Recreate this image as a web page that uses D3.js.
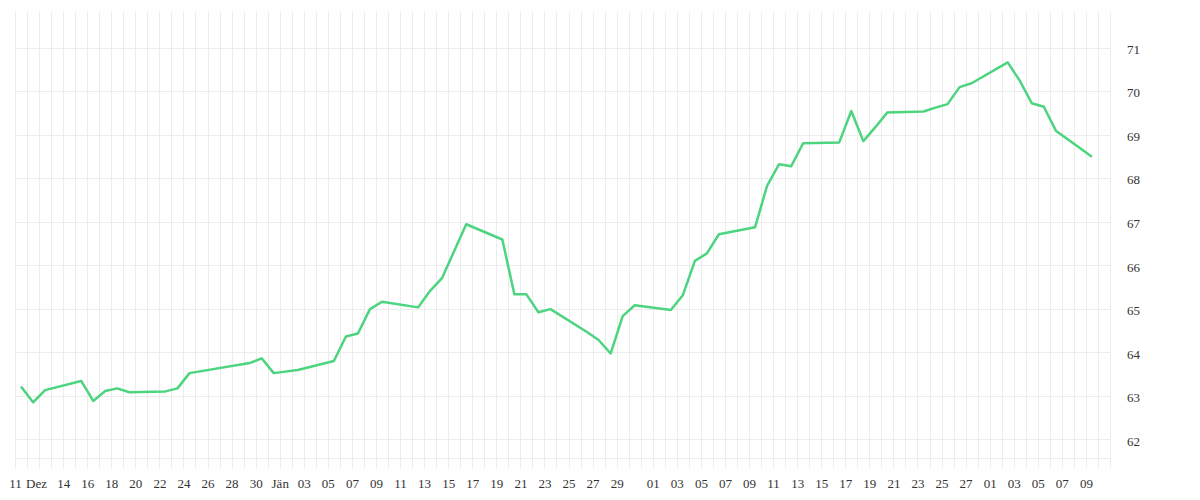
<!DOCTYPE html>
<html>
<head>
<meta charset="utf-8">
<script src="https://cdn.jsdelivr.net/npm/d3@7"></script>
<style>
  html, body { margin: 0; padding: 0; background: #fff; }
  svg { display: block; }
</style>
</head>
<body>
<svg id="chart" width="1200" height="500"></svg>
<script>
// ---- data ----
const dates = [
  "2024-12-11","2024-12-12","2024-12-13","2024-12-16","2024-12-17","2024-12-18","2024-12-19","2024-12-20",
  "2024-12-23","2024-12-24","2024-12-25","2024-12-30","2024-12-31","2025-01-01","2025-01-03",
  "2025-01-06","2025-01-07","2025-01-08","2025-01-09","2025-01-10",
  "2025-01-13","2025-01-14","2025-01-15","2025-01-17","2025-01-20","2025-01-21","2025-01-22","2025-01-23","2025-01-24",
  "2025-01-27","2025-01-28","2025-01-29","2025-01-30","2025-01-31",
  "2025-02-03","2025-02-04","2025-02-05","2025-02-06","2025-02-07",
  "2025-02-10","2025-02-11","2025-02-12","2025-02-13","2025-02-14",
  "2025-02-17","2025-02-18","2025-02-19","2025-02-20","2025-02-21",
  "2025-02-24","2025-02-25","2025-02-26","2025-02-27","2025-02-28",
  "2025-03-03","2025-03-04","2025-03-05","2025-03-06","2025-03-07","2025-03-10"
];
const values = [
  63.21, 62.85, 63.13, 63.34, 62.88, 63.11, 63.17, 63.08,
  63.10, 63.17, 63.52, 63.75, 63.86, 63.52, 63.59,
  63.80, 64.36, 64.43, 64.99, 65.16,
  65.03, 65.41, 65.71, 66.94, 66.59, 65.33, 65.33, 64.92, 64.99,
  64.47, 64.28, 63.97, 64.83, 65.08,
  64.97, 65.31, 66.10, 66.27, 66.71,
  66.87, 67.82, 68.32, 68.27, 68.80,
  68.82, 69.54, 68.85, 69.17, 69.51,
  69.53, 69.62, 69.70, 70.09, 70.18,
  70.66, 70.24, 69.72, 69.64, 69.09, 68.49
];
const tickDates = [
  "2024-12-10","2024-12-12","2024-12-14","2024-12-16","2024-12-18","2024-12-20","2024-12-22","2024-12-24",
  "2024-12-26","2024-12-28","2024-12-30","2025-01-01","2025-01-03","2025-01-05","2025-01-07","2025-01-09",
  "2025-01-11","2025-01-13","2025-01-15","2025-01-17","2025-01-19","2025-01-21","2025-01-23","2025-01-25",
  "2025-01-27","2025-01-29","2025-02-01","2025-02-03","2025-02-05","2025-02-07","2025-02-09","2025-02-11",
  "2025-02-13","2025-02-15","2025-02-17","2025-02-19","2025-02-21","2025-02-23","2025-02-25","2025-02-27",
  "2025-03-01","2025-03-03","2025-03-05","2025-03-07","2025-03-09"
];
const tickLabels = [
  "11","Dez","14","16","18","20","22","24",
  "26","28","30","Jän","03","05","07","09",
  "11","13","15","17","19","21","23","25",
  "27","29","01","03","05","07","09","11",
  "13","15","17","19","21","23","25","27",
  "01","03","05","07","09"
];
const yTicks = [62, 63, 64, 65, 66, 67, 68, 69, 70, 71];
const xDomain = ["2024-12-10T12:00", "2025-03-11T12:00"];
const yDomain = [61.57, 71.816];

// ---- chart ----
(function () {
const svg = d3.select("#chart");
const mLeft = 15, mRight = 1110, mTop = 12, mBottom = 458;
const FONT = '"Liberation Serif", "DejaVu Serif", serif';
const parseDay = d3.utcParse("%Y-%m-%d");
const parseDT = d3.utcParse("%Y-%m-%dT%H:%M");

const x = d3.scaleUtc().domain(xDomain.map(parseDT)).range([mLeft, mRight]);
const y = d3.scaleLinear().domain(yDomain).range([mBottom, mTop]);

const grid = svg.append("g").attr("stroke", "#ececec").attr("stroke-width", 1).attr("shape-rendering", "crispEdges");

// vertical daily gridlines (at noon of each day)
const gridDays = d3.utcDay.range(parseDay("2024-12-10"), parseDay("2025-03-12")).map(d => d3.utcHour.offset(d, 12));
grid.selectAll("line.v").data(gridDays).join("line")
  .attr("class", "v")
  .attr("x1", d => Math.round(x(d)) + 0.5).attr("x2", d => Math.round(x(d)) + 0.5)
  .attr("y1", mTop).attr("y2", mBottom + 10);

// horizontal gridlines
grid.selectAll("line.h").data(yTicks).join("line")
  .attr("class", "h")
  .attr("x1", mLeft).attr("x2", mRight)
  .attr("y1", d => Math.round(y(d)) + 0.5).attr("y2", d => Math.round(y(d)) + 0.5);
grid.append("line")
  .attr("x1", mLeft).attr("x2", mRight)
  .attr("y1", mBottom + 0.5).attr("y2", mBottom + 0.5);

// x axis labels
const xAxis = d3.axisBottom(x)
  .tickValues(tickDates.map(d => d3.utcHour.offset(parseDay(d), 12)))
  .tickFormat((d, i) => tickLabels[i])
  .tickSize(0).tickPadding(0);
const gx = svg.append("g").attr("transform", `translate(0,${mBottom})`).call(xAxis);
gx.select(".domain").remove();
gx.selectAll("text").attr("fill", "#333").attr("y", 30).attr("dy", 0)
  .attr("dx", (d, i) => tickLabels[i] === "Dez" ? -3 : 0)
  .style("font-family", FONT).style("font-size", "13px");

// y axis labels (right)
const yAxis = d3.axisRight(y).tickValues(yTicks).tickFormat(d3.format("d")).tickSize(0).tickPadding(0);
const gy = svg.append("g").attr("transform", `translate(1127,0)`).call(yAxis);
gy.select(".domain").remove();
gy.selectAll("text").attr("fill", "#333").attr("x", 0).attr("dy", "0.45em")
  .style("font-family", FONT).style("font-size", "13px");

// line
const pts = dates.map((d, i) => ({ date: parseDay(d), value: values[i] }));
const line = d3.line().x(d => x(d.date)).y(d => y(d.value));
svg.append("path")
  .datum(pts)
  .attr("fill", "none")
  .attr("stroke", "#4cd47e")
  .attr("stroke-width", 2.5)
  .attr("stroke-linejoin", "round")
  .attr("d", line);
})();
</script>
</body>
</html>
